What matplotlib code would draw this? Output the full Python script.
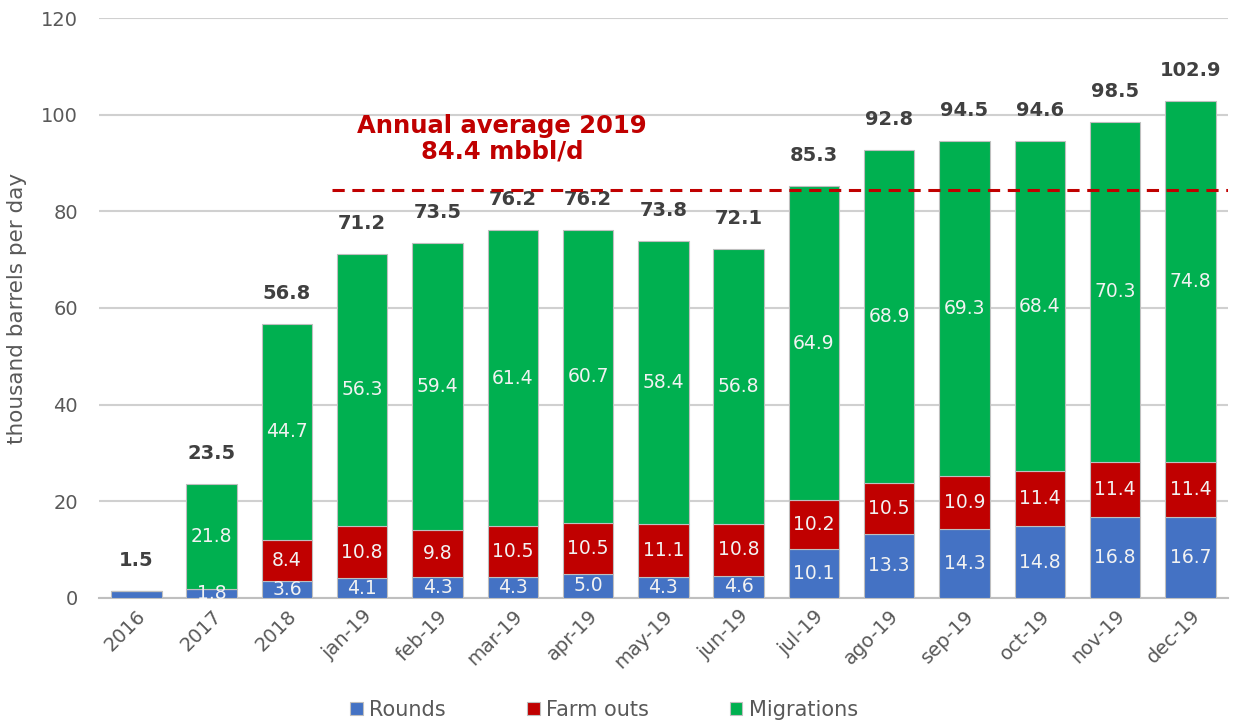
import matplotlib.pyplot as plt
import numpy as np

# data
categories = ['2016', '2017', '2018', 'jan-19', 'feb-19', 'mar-19', 'apr-19', 'may-19',
              'jun-19', 'jul-19', 'ago-19', 'sep-19', 'oct-19', 'nov-19', 'dec-19']
rounds = [1.5, 1.8, 3.6, 4.1, 4.3, 4.3, 5.0, 4.3, 4.6, 10.1, 13.3, 14.3, 14.8, 16.8, 16.7]
farm_outs = [0, 0, 8.4, 10.8, 9.8, 10.5, 10.5, 11.1, 10.8, 10.2, 10.5, 10.9, 11.4, 11.4, 11.4]
migrations = [0, 21.8, 44.7, 56.3, 59.4, 61.4, 60.7, 58.4, 56.8, 64.9, 68.9, 69.3, 68.4, 70.3, 74.8]
totals = [1.5, 23.5, 56.8, 71.2, 73.5, 76.2, 76.2, 73.8, 72.1, 85.3, 92.8, 94.5, 94.6, 98.5, 102.9]
avg_2019 = 84.4

plt.rcParams['font.family'] = ['DejaVu Sans']

fig = plt.figure(figsize=(12.33, 7.23), dpi=100)
ax = fig.add_axes([0.080, 0.173, 0.916, 0.802])

x = np.arange(len(categories))
w = 0.67
edge = dict(edgecolor='#BFBFBF', linewidth=0.8)

b1 = ax.bar(x, rounds, w, color='#4472C4', label='Rounds', zorder=3, **edge)
b2 = ax.bar(x, farm_outs, w, bottom=rounds, color='#C00000', label='Farm outs', zorder=3, **edge)
bottom3 = np.array(rounds) + np.array(farm_outs)
b3 = ax.bar(x, migrations, w, bottom=bottom3, color='#00B050', label='Migrations', zorder=3, **edge)

# segment labels
seg_kw = dict(ha='center', va='center', color='#F2F2F2', fontsize=13.5, zorder=4)
for i in x:
    if i >= 1 and rounds[i] > 0:
        ax.text(i, rounds[i] / 2, f"{rounds[i]:.1f}", **seg_kw)
    if farm_outs[i] > 0:
        ax.text(i, rounds[i] + farm_outs[i] / 2, f"{farm_outs[i]:.1f}", **seg_kw)
    if migrations[i] > 0:
        ax.text(i, bottom3[i] + migrations[i] / 2, f"{migrations[i]:.1f}", **seg_kw)

# totals above the bars
for i in x:
    top = rounds[i] + farm_outs[i] + migrations[i]
    ax.annotate(f"{totals[i]:.1f}", (i, top), xytext=(0, 22), textcoords='offset points',
                ha='center', va='center', fontsize=14, fontweight='bold', color='#404040')

# 2019 average line
ax.plot([2.6, 14.5], [avg_2019, avg_2019], linestyle=(0, (4, 2.5)), color='#C00000',
        linewidth=2.2, zorder=5)
ax.text(4.86, 95, "Annual average 2019\n84.4 mbbl/d", ha='center', va='center',
        fontsize=17.5, fontweight='bold', color='#C00000', linespacing=1.1)

# axes format
ax.set_xlim(-0.5, 14.5)
ax.set_ylim(0, 120)
ax.set_yticks(np.arange(0, 121, 20))
ax.yaxis.grid(True, color='#D0D0D0', linewidth=1.5, zorder=0)
ax.set_axisbelow(True)
for s in ['top', 'right', 'left']:
    ax.spines[s].set_visible(False)
ax.spines['bottom'].set_color('#BFBFBF')
ax.spines['bottom'].set_linewidth(1.5)
ax.tick_params(axis='both', length=0, labelsize=14, labelcolor='#595959')
ax.tick_params(axis='y', pad=15)
ax.tick_params(axis='x', pad=6)
ax.set_xticks(x)
ax.set_xticklabels(categories, rotation=45, ha='right', rotation_mode='anchor')
ax.set_ylabel('thousand barrels per day', fontsize=15.5, color='#595959', labelpad=10)

fig.legend(handles=[b1, b2, b3], loc='lower center', bbox_to_anchor=(0.49, -0.022), ncol=3,
           frameon=False, fontsize=15, handlelength=0.6, handleheight=0.6, handletextpad=0.3,
           columnspacing=3.9, labelcolor='#595959')

plt.savefig('out.png', dpi=100)
plt.close('all')
